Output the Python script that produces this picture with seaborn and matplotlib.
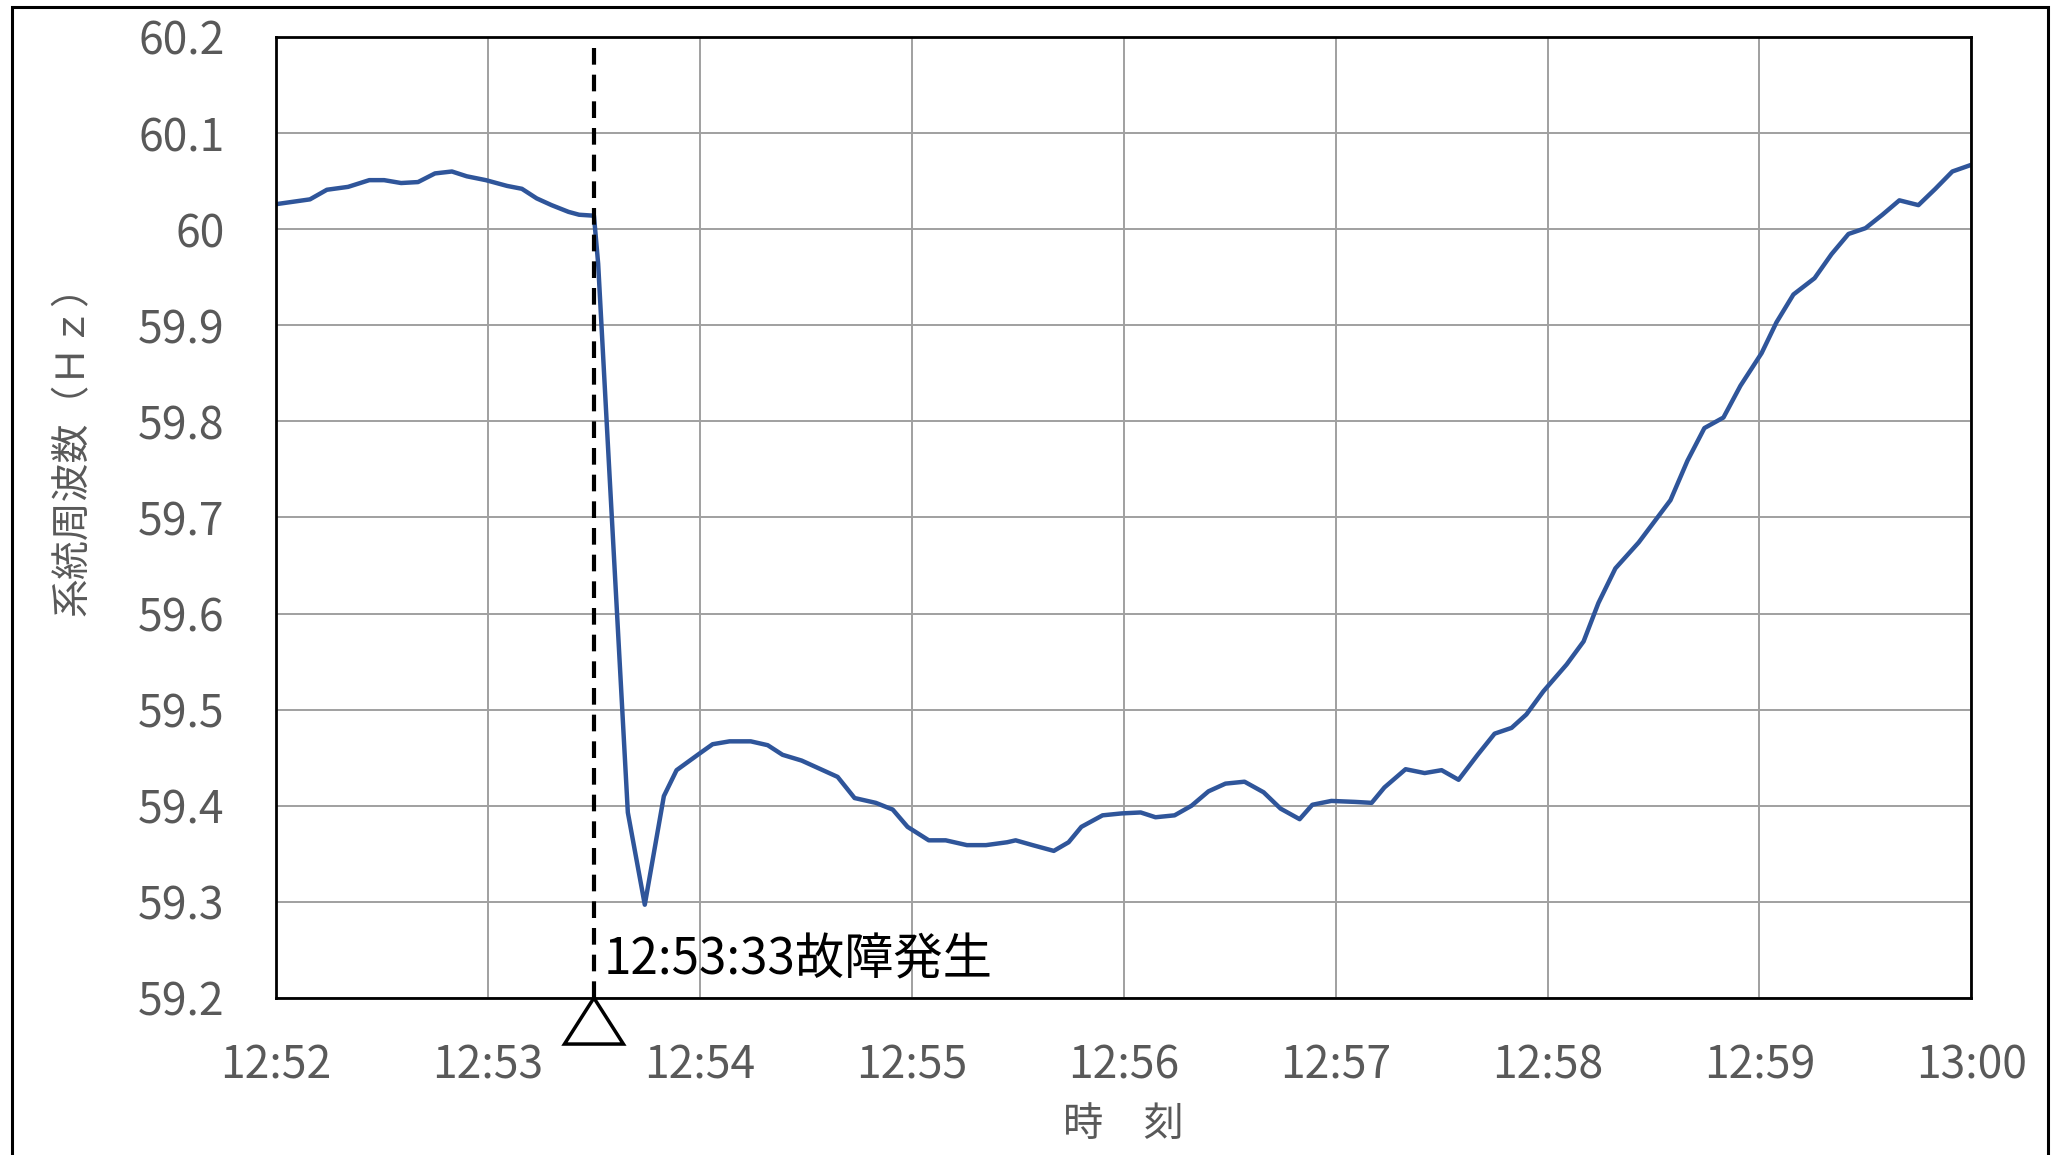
import matplotlib
matplotlib.use("Agg")
import matplotlib.pyplot as plt
import matplotlib.transforms as mtransforms
from matplotlib.patches import Polygon, Rectangle
import pandas as pd
import seaborn as sns

# minutes after 12:52 and system frequency (Hz)
minutes = [0.00, 0.16, 0.24, 0.34, 0.44, 0.51, 0.59, 0.67, 0.75, 0.83,
           0.90, 0.99, 1.09, 1.16, 1.23, 1.30, 1.38, 1.43, 1.50, 1.52,
           1.57, 1.66, 1.74, 1.83, 1.89, 1.99, 2.06, 2.14, 2.24, 2.32,
           2.39, 2.48, 2.58, 2.65, 2.73, 2.83, 2.91, 2.98, 3.08, 3.16,
           3.26, 3.35, 3.45, 3.49, 3.57, 3.67, 3.74, 3.80, 3.90, 3.99,
           4.08, 4.15, 4.24, 4.32, 4.40, 4.48, 4.57, 4.66, 4.74, 4.83,
           4.89, 4.98, 5.09, 5.17, 5.23, 5.33, 5.42, 5.50, 5.58, 5.67,
           5.75, 5.83, 5.90, 5.98, 6.09, 6.17, 6.24, 6.32, 6.43, 6.58,
           6.66, 6.74, 6.83, 6.91, 7.01, 7.08, 7.16, 7.26, 7.34, 7.42,
           7.50, 7.58, 7.66, 7.75, 7.83, 7.91, 8.00]
freq = [60.026, 60.031, 60.041, 60.044, 60.051, 60.051, 60.048, 60.049, 60.058, 60.060,
        60.055, 60.051, 60.045, 60.042, 60.032, 60.025, 60.018, 60.015, 60.014, 59.964,
        59.759, 59.393, 59.297, 59.410, 59.437, 59.453, 59.464, 59.467, 59.467, 59.463,
        59.453, 59.447, 59.437, 59.430, 59.408, 59.403, 59.396, 59.378, 59.364, 59.364,
        59.359, 59.359, 59.362, 59.364, 59.359, 59.353, 59.362, 59.378, 59.390, 59.392,
        59.393, 59.388, 59.390, 59.400, 59.415, 59.423, 59.425, 59.414, 59.397, 59.386,
        59.401, 59.405, 59.404, 59.403, 59.419, 59.438, 59.434, 59.437, 59.427, 59.453,
        59.475, 59.481, 59.495, 59.519, 59.547, 59.571, 59.611, 59.647, 59.674, 59.718,
        59.759, 59.793, 59.804, 59.837, 59.871, 59.903, 59.932, 59.949, 59.974, 59.995,
        60.001, 60.015, 60.030, 60.025, 60.042, 60.060, 60.067]

x_ticks = [0, 1, 2, 3, 4, 5, 6, 7, 8]
x_labels = ["12:52", "12:53", "12:54", "12:55", "12:56", "12:57", "12:58", "12:59", "13:00"]
y_ticks = [59.2, 59.3, 59.4, 59.5, 59.6, 59.7, 59.8, 59.9, 60.0, 60.1, 60.2]

fault_minute = 1.5
fault_label = "12:53:33故障発生"

df = pd.DataFrame({"minute": minutes, "freq": freq})

sns.set_style("white")
plt.rcParams["font.family"] = ["Noto Sans CJK JP", "DejaVu Sans"]

fig = plt.figure(figsize=(20.6, 11.55), dpi=100)
ax = fig.add_axes([0.134, 0.136, 0.823, 0.832])

sns.lineplot(data=df, x="minute", y="freq", ax=ax, color="#2f559a", linewidth=3.2)

ax.set_xlim(0, 8)
ax.set_ylim(59.2, 60.2)
ax.set_xticks(x_ticks)
ax.set_xticklabels(x_labels)
ax.set_yticks(y_ticks)
ax.set_yticklabels([f"{v:g}" for v in y_ticks])
ax.tick_params(axis="both", length=0, labelsize=32, labelcolor="#595959")
ax.tick_params(axis="x", pad=32)
ax.tick_params(axis="y", pad=37)

ax.grid(True, color="#a0a0a0", linewidth=1.4)
ax.set_axisbelow(True)
for side in ["left", "right", "top", "bottom"]:
    ax.spines[side].set_color("black")
    ax.spines[side].set_linewidth(2.0)

ax.set_xlabel("時　刻", fontsize=29, color="#595959")
ax.set_ylabel("系統周波数（Ｈｚ）", fontsize=28, color="#595959")
ax.xaxis.label.set_va("center")
ax.xaxis.set_label_coords(0.5, -0.132)
ax.yaxis.label.set_va("center")
ax.yaxis.set_label_coords(-0.120, 0.58)

# fault marker: dashed line, open triangle under the axis, label
ax.axvline(fault_minute, color="black", linewidth=3.0, linestyle=(0, (4.0, 2.4)), zorder=4)
trans = mtransforms.blended_transform_factory(ax.transData, ax.transAxes)
tri = Polygon([(fault_minute, 0.0), (fault_minute - 0.139, -0.048), (fault_minute + 0.139, -0.048)],
              closed=True, facecolor="white", edgecolor="black", linewidth=2.5,
              transform=trans, clip_on=False, zorder=5)
ax.add_patch(tri)
ax.annotate(fault_label, xy=(fault_minute, 59.2), xycoords="data",
            xytext=(7, 27), textcoords="offset points",
            fontsize=35.5, color="black", ha="left", va="center")

# outer frame of the picture
fig.patches.append(Rectangle((0.006, -0.05), 0.988, 1.044, transform=fig.transFigure,
                             fill=False, edgecolor="black", linewidth=2.2))

fig.savefig("out.png", dpi=100)
plt.close(fig)
